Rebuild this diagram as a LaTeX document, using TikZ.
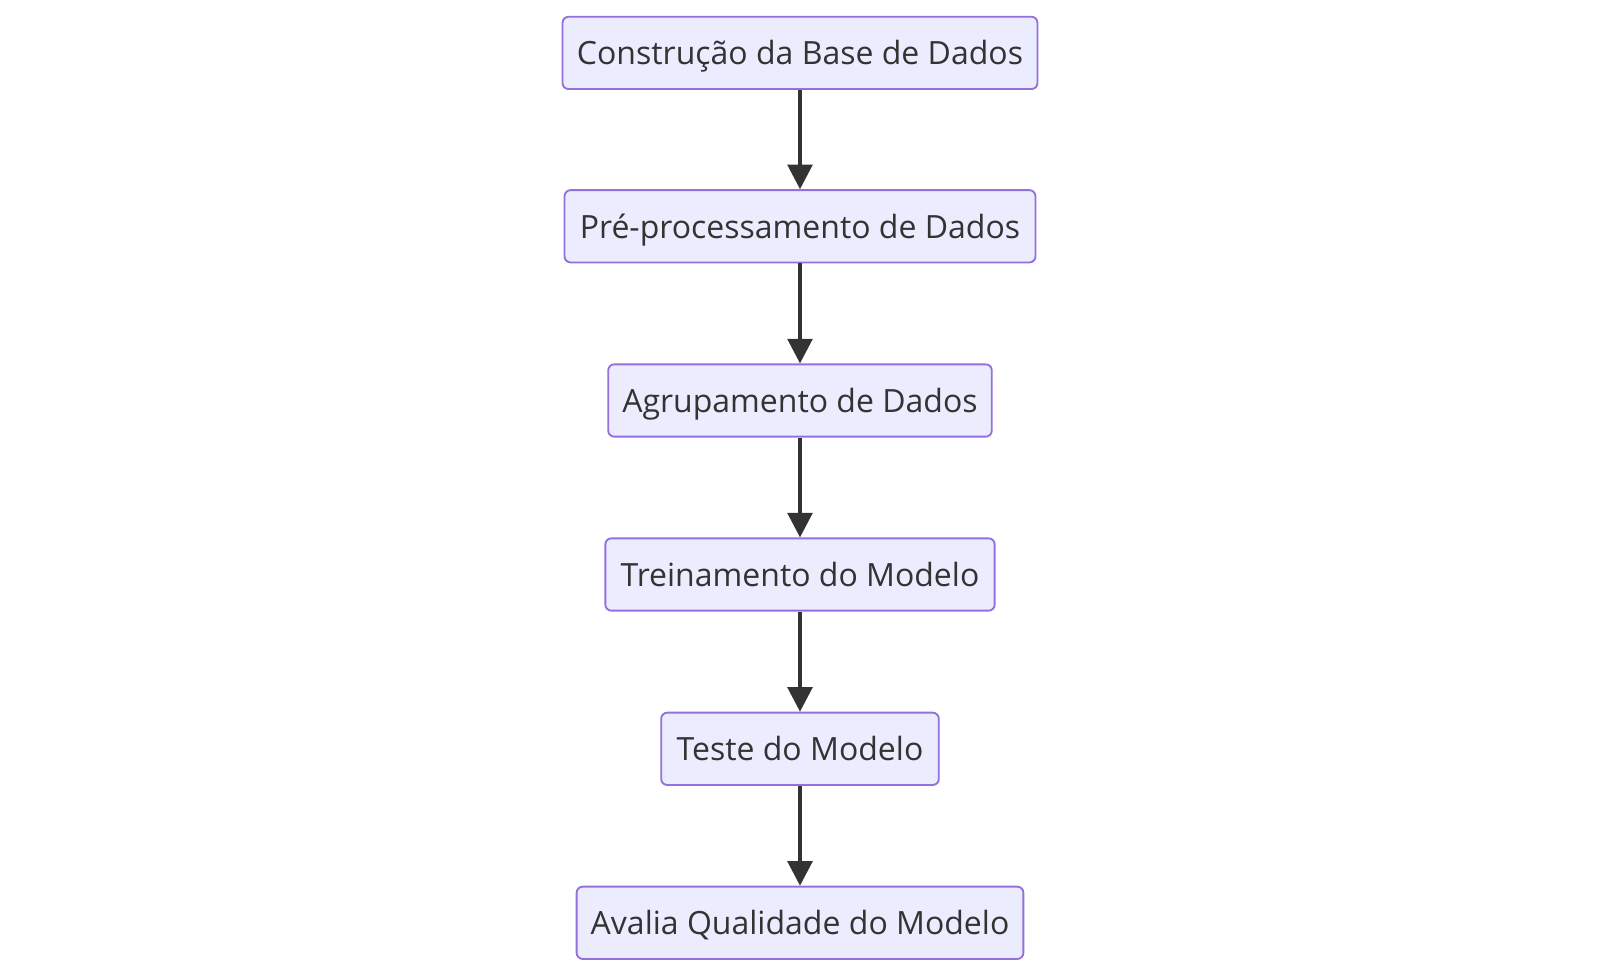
\documentclass[tikz,border=0pt]{standalone}
\usepackage{fontspec}
\setmainfont{Open Sans}
\usetikzlibrary{arrows.meta}
\definecolor{boxfill}{HTML}{ECECFF}
\definecolor{boxline}{HTML}{9370DB}
\definecolor{ink}{HTML}{333333}
\begin{document}
\begin{tikzpicture}[x=0.75pt,y=-0.75pt,
  stepbox/.style={draw=boxline,fill=boxfill,line width=1.4pt,rounded corners=4.5pt,
    minimum height=54.2pt,inner sep=0pt,text height=17.6pt,text depth=0pt,
    text=ink,font=\fontsize{24pt}{28pt}\selectfont},
  flow/.style={draw=ink,line width=3pt,-{Triangle[length=18.5pt,width=18.5pt]}}]
\useasboundingbox (0,0) rectangle (1600,976);
\node[stepbox,minimum width=356.2pt] (a) at (800,52.9) {Construção da Base de Dados};
\node[stepbox,minimum width=353.2pt] (b) at (800,226.3) {Pré-processamento de Dados};
\node[stepbox,minimum width=287.7pt] (c) at (800,400.5) {Agrupamento de Dados};
\node[stepbox,minimum width=292pt] (d) at (800,574.5) {Treinamento do Modelo};
\node[stepbox,minimum width=208.2pt] (e) at (800,748.8) {Teste do Modelo};
\node[stepbox,minimum width=335pt] (f) at (800,922.8) {Avalia Qualidade do Modelo};
\draw[flow] (a) -- (b);
\draw[flow] (b) -- (c);
\draw[flow] (c) -- (d);
\draw[flow] (d) -- (e);
\draw[flow] (e) -- (f);
\end{tikzpicture}
\end{document}
